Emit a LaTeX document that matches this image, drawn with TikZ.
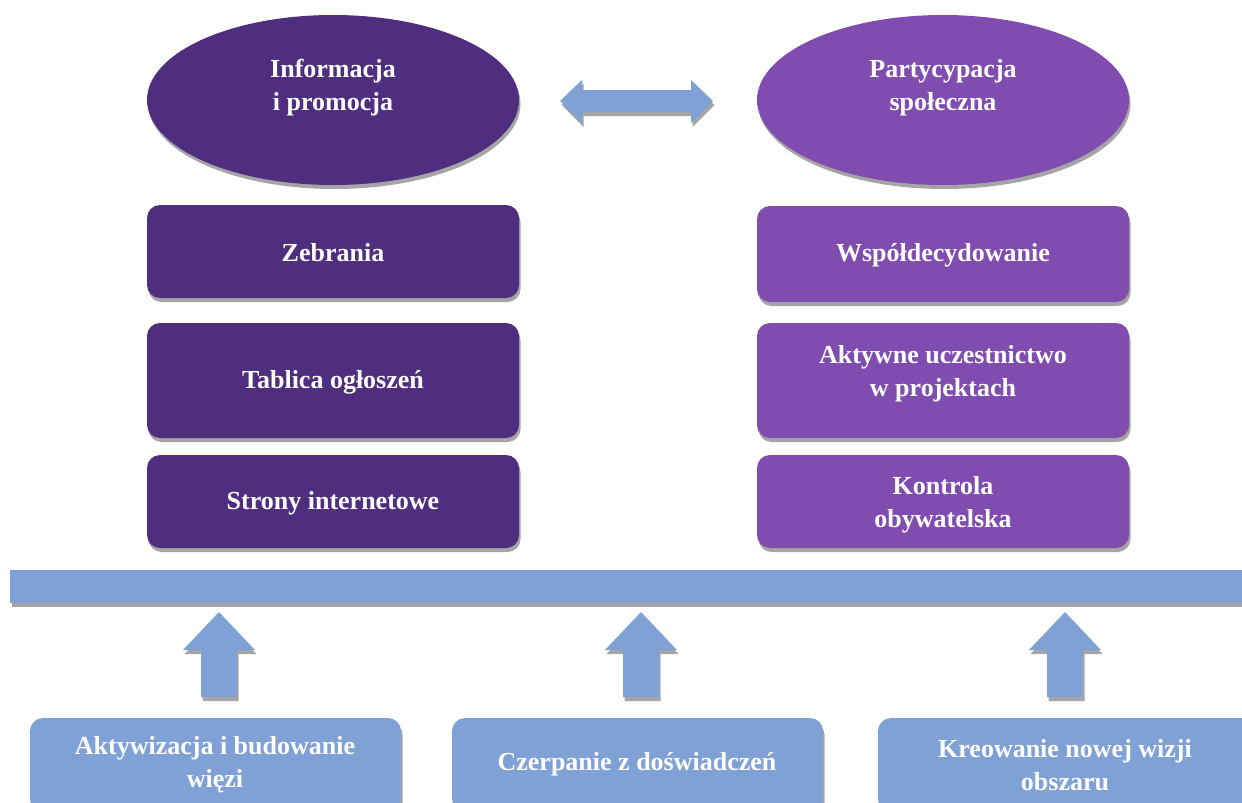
\documentclass[tikz,border=0pt]{standalone}
\usepackage{fontspec}
\setmainfont{Liberation Serif}
\usetikzlibrary{shapes.geometric,shadows}
\definecolor{darkpurple}{RGB}{79,45,127}
\definecolor{lightpurple}{RGB}{128,76,175}
\definecolor{paleblue}{RGB}{127,161,213}
\definecolor{shadowgray}{RGB}{165,165,165}
\tikzset{
  lbl/.style={text=white, font=\fontsize{26}{33}\selectfont\bfseries, align=center, inner sep=0pt},
  shad/.style={drop shadow={shadow xshift=1.5pt, shadow yshift=-4pt, fill=shadowgray, opacity=1}},
  oval/.style={ellipse, minimum width=372pt, minimum height=170pt, inner sep=0pt, shad},
  boxL/.style={rounded corners=13pt, fill=darkpurple, shad},
  boxR/.style={rounded corners=13pt, fill=lightpurple, shad},
  boxB/.style={rounded corners=13pt, fill=paleblue, shad},
  blockarrow/.style={fill=paleblue, shad},
}
\begin{document}
\begin{tikzpicture}[x=1pt,y=-1pt]
\useasboundingbox (0,0) rectangle (1242,803);
\clip (0,0) rectangle (1242,803);
% ellipses
\node[oval, fill=darkpurple] (ell1) at (333,100) {};
\node[lbl] (t1) at (333,88) {Informacja\\i promocja};
\node[oval, fill=lightpurple] (ell2) at (943,100) {};
\node[lbl] (t2) at (943,88) {Partycypacja\\społeczna};
% double arrow
\path[blockarrow] (560,101) -- (582,80) -- (582,90) -- (691,90) -- (691,80) -- (713,101)
  -- (691,123) -- (691,112) -- (582,112) -- (582,123) -- cycle;
% left boxes
\path[boxL] (147,205) rectangle (519,298);
\node[lbl] (l1) at (333,253) {Zebrania};
\path[boxL] (147,323) rectangle (519,438);
\node[lbl] (l2) at (333,382) {Tablica ogłoszeń};
\path[boxL] (147,455) rectangle (519,548);
\node[lbl] (l3) at (333,503) {Strony internetowe};
% right boxes
\path[boxR] (757,206) rectangle (1129,302);
\node[lbl] (r1) at (943,255) {Współdecydowanie};
\path[boxR] (757,323) rectangle (1129,438);
\node[lbl] (r2) at (943,374) {Aktywne uczestnictwo\\w projektach};
\path[boxR] (757,455) rectangle (1129,548);
\node[lbl] (r3) at (943,505) {Kontrola\\obywatelska};
% bar
\path[blockarrow] (10,570) rectangle (1250,603);
% up arrows
\foreach \cx/\nm in {219/a1,641/a2,1065/a3}{
  \path[blockarrow] (\cx-18,697) -- (\cx-18,650) -- (\cx-36,650) -- (\cx,612)
    -- (\cx+36,650) -- (\cx+18,650) -- (\cx+18,697) -- cycle;
}
% bottom boxes
\path[boxB] (30,718) rectangle (401,812);
\node[lbl] (b1) at (215,765) {Aktywizacja i budowanie\\więzi};
\path[boxB] (452,718) rectangle (823,812);
\node[lbl] (b2) at (637,764) {Czerpanie z doświadczeń};
\path[boxB] (878,718) rectangle (1260,812);
\node[lbl] (b3) at (1065,765) {Kreowanie nowej wizji\\obszaru};
\end{tikzpicture}
\end{document}
